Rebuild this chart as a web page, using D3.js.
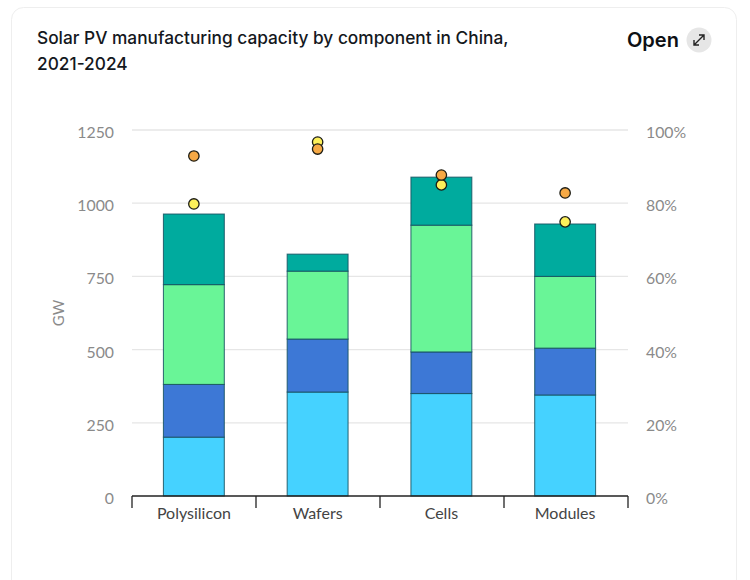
<!DOCTYPE html>
<html>
<head>
    <meta charset="utf-8">
    <title>Solar PV manufacturing capacity</title>
    <script src="https://cdn.jsdelivr.net/npm/d3@7"></script>
    <style>
        html, body { margin: 0; padding: 0; background: #fff; }
        svg { display: block; font-family: Lato, sans-serif; }
        .title { font-family: Inter, sans-serif; font-size: 17.3px; font-weight: 500; fill: #14181d; }
        .open { font-family: Inter, sans-serif; font-size: 20px; font-weight: 600; fill: #0d1014; }
        .grey-axis text { font-family: Lato, sans-serif; font-size: 15.8px; fill: #8a8a8a; }
        .cat-axis text { font-family: Lato, sans-serif; font-size: 16px; fill: #444; }
    </style>
</head>
<body>
<div id="chart"></div>
<script>
    //Values
    var categories = ["Polysilicon", "Wafers", "Cells", "Modules"];
    var years = ["2021", "2022", "2023", "2024"];
    var capacity2021 = [201, 355, 350, 345];
    var capacity2022 = [180, 181, 142, 160];
    var capacity2023 = [341, 232, 433, 245];
    var capacity2024 = [241, 58, 164, 179];
    var yellowShare = [79.8, 96.7, 85.0, 74.9];
    var orangeShare = [92.9, 94.8, 87.7, 82.8];
    var leftTicks = [0, 250, 500, 750, 1000, 1250];
    var rightTicks = [0, 20, 40, 60, 80, 100];
    var titleLines = ["Solar PV manufacturing capacity by component in China,", "2021-2024"];

    var barColors = ["#45d2ff", "#3d78d6", "#69f597", "#00ab9e"];

    var width = 750;
    var height = 580;
    var plotLeft = 132, plotRight = 628, plotTop = 130, plotBottom = 496;

    var svg = d3.select("#chart").append("svg")
        .attr("width", width)
        .attr("height", height);

    //Card outline, runs off the bottom of the picture
    svg.append("rect")
        .attr("x", 11.5).attr("y", 7.5)
        .attr("width", 725).attr("height", 640)
        .attr("rx", 12)
        .attr("fill", "#fff")
        .attr("stroke", "#eeeeee");

    svg.append("text").attr("class", "title")
        .selectAll("tspan").data(titleLines).enter().append("tspan")
        .attr("x", 37)
        .attr("y", function(d, i) { return 44 + i * 26; })
        .text(function(d) { return d; });

    svg.append("text").attr("class", "open")
        .attr("x", 627).attr("y", 47).text("Open");
    var icon = svg.append("g").attr("transform", "translate(699,40)");
    icon.append("circle").attr("r", 12.5).attr("fill", "#e6e6e6");
    icon.append("path")
        .attr("d", "M-5,5L5,-5M0,-5H5V0M-5,0V5H0")
        .attr("fill", "none").attr("stroke", "#222").attr("stroke-width", 1.4);

    var x = d3.scaleBand().domain(categories).range([plotLeft + 0.5, plotRight - 1.5])
        .paddingInner(0.508).paddingOuter(0.25);
    var y = d3.scaleLinear().domain([0, 1250]).range([plotBottom, plotTop]);
    var yShare = d3.scaleLinear().domain([0, 100]).range([plotBottom, plotTop]);

    //Left axis and gridlines
    var leftAxis = svg.append("g").attr("class", "grey-axis")
        .attr("transform", "translate(" + plotLeft + ",0)")
        .call(d3.axisLeft(y).tickValues(leftTicks).tickSize(0).tickPadding(18)
            .tickFormat(d3.format("d")));
    leftAxis.select(".domain").remove();
    leftAxis.selectAll("text").attr("dy", "0.48em");

    svg.append("g").selectAll("line")
        .data(leftTicks.slice(1)).enter().append("line")
        .attr("x1", plotLeft).attr("x2", plotRight)
        .attr("y1", function(d) { return y(d); })
        .attr("y2", function(d) { return y(d); })
        .attr("stroke", "#e6e6e6").attr("stroke-width", 1.3);

    //Right axis
    var rightAxis = svg.append("g").attr("class", "grey-axis")
        .attr("transform", "translate(" + plotRight + ",0)")
        .call(d3.axisRight(yShare).tickValues(rightTicks).tickSize(0).tickPadding(18)
            .tickFormat(function(d) { return d + "%"; }));
    rightAxis.select(".domain").remove();
    rightAxis.selectAll("text").attr("dy", "0.48em");

    svg.append("text")
        .attr("transform", "translate(64,313) rotate(-90)")
        .attr("text-anchor", "middle")
        .attr("font-size", 15).attr("fill", "#8a8a8a")
        .text("GW");

    //Stacked bars
    var rows = categories.map(function(c, i) {
        return {
            category: c,
            "2021": capacity2021[i],
            "2022": capacity2022[i],
            "2023": capacity2023[i],
            "2024": capacity2024[i]
        };
    });
    var layers = d3.stack().keys(years)(rows);

    svg.append("g").selectAll("g")
        .data(layers).enter().append("g")
        .attr("fill", function(d, i) { return barColors[i]; })
        .selectAll("rect")
        .data(function(d) { return d; }).enter().append("rect")
        .attr("x", function(d) { return x(d.data.category); })
        .attr("width", x.bandwidth())
        .attr("y", function(d) { return y(d[1]); })
        .attr("height", function(d) { return y(d[0]) - y(d[1]); })
        .attr("stroke", "#15505f").attr("stroke-opacity", 0.8).attr("stroke-width", 1.1);

    //Category axis with long ticks
    var catAxis = svg.append("g").attr("class", "cat-axis")
        .attr("transform", "translate(0," + plotBottom + ")")
        .call(d3.axisBottom(x).tickSize(0).tickPadding(12));
    catAxis.select(".domain").remove();
    catAxis.selectAll("text").attr("dy", "0.71em");

    var edgeScale = d3.scaleLinear().domain([0, categories.length]).range([plotLeft, plotRight]);
    var edges = d3.range(categories.length + 1).map(edgeScale);
    var edgeAxis = svg.append("g").attr("stroke", "#222").attr("stroke-width", 1.3);
    edgeAxis.append("line")
        .attr("x1", plotLeft).attr("x2", plotRight)
        .attr("y1", plotBottom).attr("y2", plotBottom);
    edgeAxis.selectAll(".edge").data(edges).enter().append("line")
        .attr("class", "edge")
        .attr("x1", function(d) { return d; })
        .attr("x2", function(d) { return d; })
        .attr("y1", plotBottom).attr("y2", plotBottom + 12);

    //Dots, yellow first so orange sits on top
    [[yellowShare, "#fdf05a"], [orangeShare, "#f6a945"]].forEach(function(s) {
        svg.append("g").selectAll("circle")
            .data(s[0]).enter().append("circle")
            .attr("cx", function(d, i) { return x(categories[i]) + x.bandwidth() / 2; })
            .attr("cy", function(d) { return yShare(d); })
            .attr("r", 5.2)
            .attr("fill", s[1])
            .attr("stroke", "#1c1c14").attr("stroke-width", 1.3);
    });
</script>
</body>
</html>
